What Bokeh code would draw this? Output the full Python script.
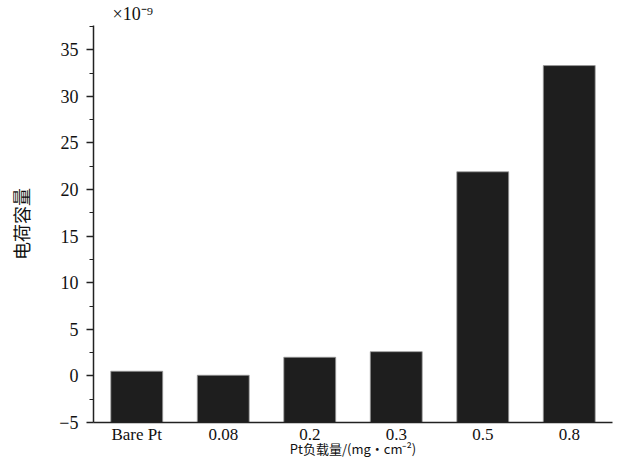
from bokeh.plotting import figure
from bokeh.models import FactorRange, Range1d, FixedTicker, Title, ColumnDataSource
from bokeh.embed import file_html
from bokeh.resources import INLINE

categories = ["Bare Pt", "0.08", "0.2", "0.3", "0.5", "0.8"]
values = [0.5, 0.07, 2.0, 2.6, 21.9, 33.3]
y_ticks = [-5, 0, 5, 10, 15, 20, 25, 30, 35]
y_minor = [-2.5, 2.5, 7.5, 12.5, 17.5, 22.5, 27.5, 32.5, 37.5]
y_label = "电荷容量"
x_label = "Pt负载量/(mg·cm⁻²)"
scale_text = "×10⁻⁹"

SERIF = "Liberation Serif"
CJK = "Noto Sans CJK SC"

src = ColumnDataSource(dict(cat=categories, val=values))

p = figure(x_range=FactorRange(*categories, range_padding=0),
           y_range=Range1d(-5, 37.6),
           width=615, height=460, output_backend="svg", toolbar_location=None,
           min_border_left=93, min_border_top=0, min_border_right=3, min_border_bottom=0)

p.vbar(x="cat", top="val", bottom=-5, width=0.6, source=src,
       fill_color="#1e1e1e", line_color="#9a9a9a", line_width=0.8)

p.xgrid.visible = False
p.ygrid.visible = False
p.outline_line_color = None
p.background_fill_color = "white"
p.border_fill_color = "white"

ya = p.yaxis[0]
ya.ticker = FixedTicker(ticks=y_ticks, minor_ticks=y_minor)
ya.major_label_overrides = {-5: "−5"}
ya.axis_line_width = 1.5
ya.axis_line_color = "#222222"
ya.major_tick_line_width = 1.5
ya.major_tick_line_color = "#222222"
ya.minor_tick_line_color = "#222222"
ya.minor_tick_line_width = 1.2
ya.major_tick_out = 7
ya.major_tick_in = 0
ya.minor_tick_out = 4
ya.minor_tick_in = 0
ya.major_label_text_font = SERIF
ya.major_label_text_font_size = "18px"
ya.major_label_text_color = "#111111"
ya.major_label_standoff = 8
ya.axis_label = y_label
ya.axis_label_text_font = CJK
ya.axis_label_text_font_size = "18px"
ya.axis_label_text_font_style = "normal"
ya.axis_label_text_color = "#111111"
ya.axis_label_standoff = 22

xa = p.xaxis[0]
xa.axis_line_width = 1.5
xa.axis_line_color = "#222222"
xa.major_tick_line_color = None
xa.minor_tick_line_color = None
xa.major_tick_out = 0
xa.major_tick_in = 0
xa.major_label_text_font = SERIF
xa.major_label_text_font_size = "17px"
xa.major_label_text_color = "#111111"
xa.major_label_standoff = 2
xa.axis_label = x_label
xa.axis_label_text_font = CJK
xa.axis_label_text_font_size = "13px"
xa.axis_label_text_font_style = "normal"
xa.axis_label_text_color = "#111111"
xa.axis_label_standoff = -8

p.add_layout(Title(text=scale_text, align="left", offset=19, text_font=SERIF,
                   text_font_size="18px", text_font_style="normal",
                   text_color="#111111", standoff=3), "above")

open("out.html", "w").write(file_html(p, INLINE))
